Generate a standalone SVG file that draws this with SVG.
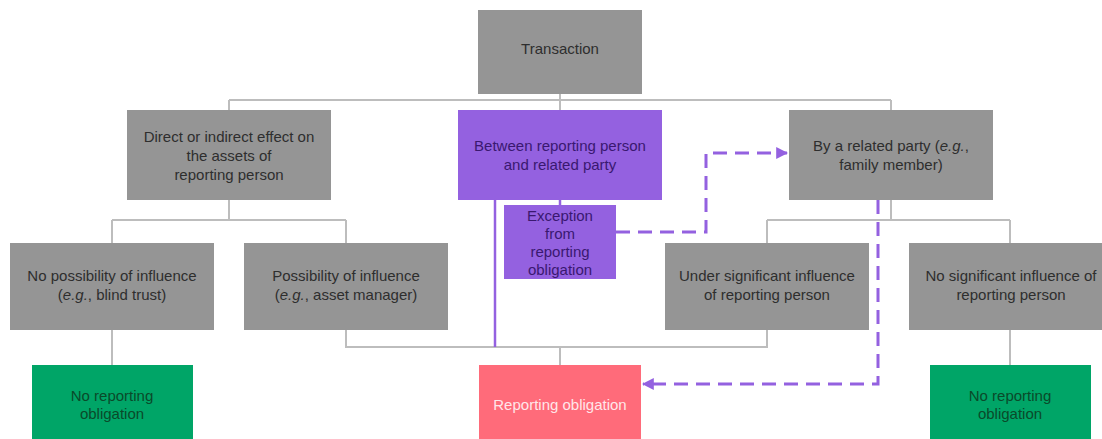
<svg xmlns="http://www.w3.org/2000/svg" width="1102" height="439" viewBox="0 0 1102 439">
<style>
text{font-family:"Liberation Sans",Arial,sans-serif;font-size:15px;text-anchor:middle}
.g rect{fill:#959595}.g text{fill:#2e2e2e}
.p rect{fill:#9461e0}.p text{fill:#3a1870}
.gr rect{fill:#00a567}.gr text{fill:#0a4a2a}
.r rect{fill:#ff6b7a}.r text{fill:#ffe6e9}
.c{fill:none;stroke:#bdbdbd;stroke-width:2}
.ps{fill:none;stroke:#9461e0;stroke-width:2.5}
.d{fill:none;stroke:#9461e0;stroke-width:3;stroke-dasharray:14 8}
</style>
<defs>
<marker id="ah" viewBox="0 0 10 10" refX="9" refY="5" markerWidth="4" markerHeight="4" orient="auto">
<path d="M0,0L10,5L0,10z" fill="#9461e0"/>
</marker>
</defs>
<g id="connectors">
<path class="c" d="M560,94V110M229,100H891M229,100V110M891,100V110"/>
<path class="c" d="M229,200V220M112,220H346M112,220V243M346,220V243"/>
<path class="c" d="M891,200V220M767,220H1010M767,220V243M1010,220V243"/>
<path class="c" d="M346,330V347H767V330M560,347V365"/>
<path class="c" d="M112,330V365M1010,330V365"/>
<path class="ps" d="M560,200V205"/>
<path class="ps" d="M495,200V347"/>
<path class="d" d="M616,232H706V153H787" marker-end="url(#ah)"/>
<path class="d" d="M878,200V384H643" marker-end="url(#ah)"/>
</g>
<g id="transaction" class="g"><rect x="478" y="10" width="164" height="84"/><text x="560" y="54">Transaction</text></g>
<g id="direct" class="g"><rect x="127" y="110" width="204" height="90"/>
<text x="229" y="142">Direct or indirect effect on</text><text x="229" y="161">the assets of</text><text x="229" y="180">reporting person</text></g>
<g id="between" class="p"><rect x="458" y="110" width="204" height="90"/>
<text x="560" y="151">Between reporting person</text><text x="560" y="170">and related party</text></g>
<g id="related" class="g"><rect x="789" y="110" width="204" height="90"/>
<text x="891" y="151">By a related party (<tspan font-style="italic">e.g.</tspan>,</text><text x="891" y="170">family member)</text></g>
<g id="exception" class="p"><rect x="504" y="205" width="112" height="74"/>
<text x="560" y="221">Exception</text><text x="560" y="239">from</text><text x="560" y="257">reporting</text><text x="560" y="275">obligation</text></g>
<g id="nopossibility" class="g"><rect x="10" y="243" width="204" height="87"/>
<text x="112" y="281">No possibility of influence</text><text x="112" y="300">(<tspan font-style="italic">e.g.</tspan>, blind trust)</text></g>
<g id="possibility" class="g"><rect x="244" y="243" width="204" height="87"/>
<text x="346" y="281">Possibility of influence</text><text x="346" y="300">(<tspan font-style="italic">e.g.</tspan>, asset manager)</text></g>
<g id="under" class="g"><rect x="665" y="243" width="204" height="87"/>
<text x="767" y="281">Under significant influence</text><text x="767" y="300">of reporting person</text></g>
<g id="nosignificant" class="g"><rect x="909" y="243" width="204" height="87"/>
<text x="1011" y="281">No significant influence of</text><text x="1011" y="300">reporting person</text></g>
<g id="noreport1" class="gr"><rect x="32" y="365" width="161" height="74"/>
<text x="112" y="401">No reporting</text><text x="112" y="419">obligation</text></g>
<g id="reporting" class="r"><rect x="479" y="365" width="162" height="74"/>
<text x="560" y="410">Reporting obligation</text></g>
<g id="noreport2" class="gr"><rect x="930" y="365" width="161" height="74"/>
<text x="1010" y="401">No reporting</text><text x="1010" y="419">obligation</text></g>
</svg>
